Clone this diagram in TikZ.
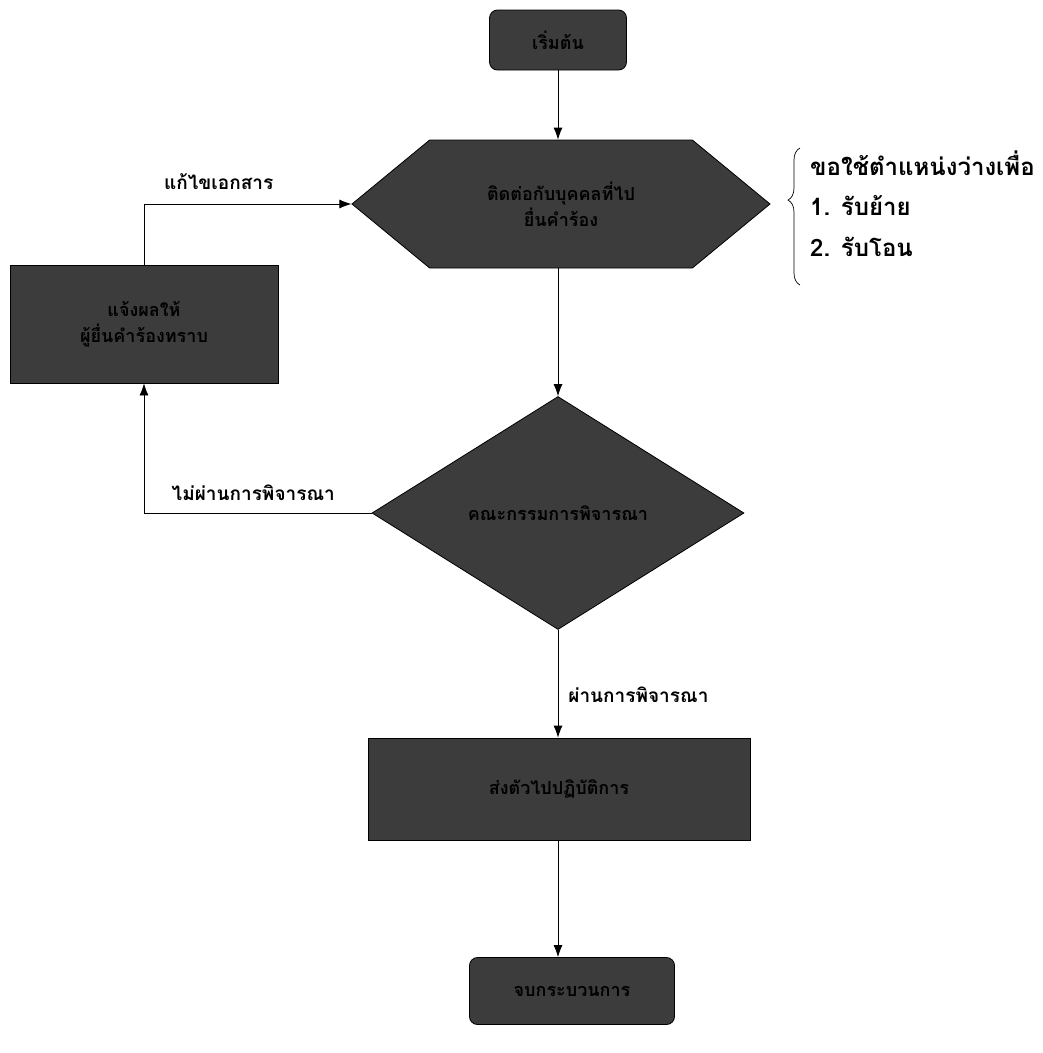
\documentclass[tikz,border=0pt]{standalone}
\usepackage{fontspec}
\newfontfamily\thaifont[Script=Thai]{Loma}
\usetikzlibrary{shapes.geometric,shapes.symbols,arrows.meta,decorations.pathreplacing}
\definecolor{darkfill}{HTML}{3C3C3C}
\begin{document}
\begin{tikzpicture}[x=1pt,y=-1pt,
  box/.style={draw=black, fill=darkfill, line width=0.8pt, text=black, align=center, inner sep=0pt,
    font=\thaifont\bfseries\fontsize{18}{26}\selectfont},
  arr/.style={-{Latex[length=12pt,width=9pt]}, line width=0.8pt},
  lbl/.style={font=\thaifont\bfseries\fontsize{19}{22}\selectfont, inner sep=0pt},
  note/.style={font=\thaifont\bfseries\fontsize{24}{28}\selectfont, anchor=west, inner sep=0pt}]
\useasboundingbox[fill=white] (0,0) rectangle (1043,1053);

\node[box, rounded corners=8pt, minimum width=137pt, minimum height=60pt] (start) at (558,40) {เริ่มต้น};
\node[box, signal, signal to=west and east, signal pointer angle=79, minimum width=418pt, minimum height=128pt] (hex) at (561,204) {ติดต่อกับบุคคลที่ไป\\ยื่นคำร้อง};
\node[box, minimum width=268pt, minimum height=118pt] (fix) at (144,324) {แจ้งผลให้\\ผู้ยื่นคำร้องทราบ};
\node[box, diamond, aspect=1.6, minimum width=372pt, minimum height=233pt] (dec) at (558,513) {คณะกรรมการพิจารณา};
\node[box, minimum width=382pt, minimum height=102pt] (send) at (559,789) {ส่งตัวไปปฏิบัติการ};
\node[box, rounded corners=8pt, minimum width=205pt, minimum height=67pt] (stop) at (572,991) {จบกระบวนการ};

\draw[arr] (start.south) -- (start.south |- hex.north);
\draw[arr] (hex.south -| dec.north) -- (dec.north);
\draw[arr] (fix.north) |- node[lbl, pos=0.68, above=14pt] (l1) {แก้ไขเอกสาร} (hex.west);
\draw[arr] (dec.west) -| node[lbl, pos=0.26, above=12pt] (l2) {ไม่ผ่านการพิจารณา} (fix.south);
\draw[arr] (dec.south) -- node[lbl, pos=0.6, right=10pt] (l3) {ผ่านการพิจารณา} (dec.south |- send.north);
\coordinate (sendbot) at (send.south -| start.south);
\draw[arr] (sendbot) -- (sendbot |- stop.north);

\coordinate (bt) at (800,148);
\coordinate (bb) at (800,285);
\draw[decorate, decoration={brace, amplitude=12pt, aspect=0.62}, line width=0.7pt] (bb) -- (bt);
\node[note] (n0) at (810,163) {ขอใช้ตำแหน่งว่างเพื่อ};
\node[note] (n1) at (810,206) {1. รับย้าย};
\node[note] (n2) at (810,247) {2. รับโอน};
\end{tikzpicture}
\end{document}
